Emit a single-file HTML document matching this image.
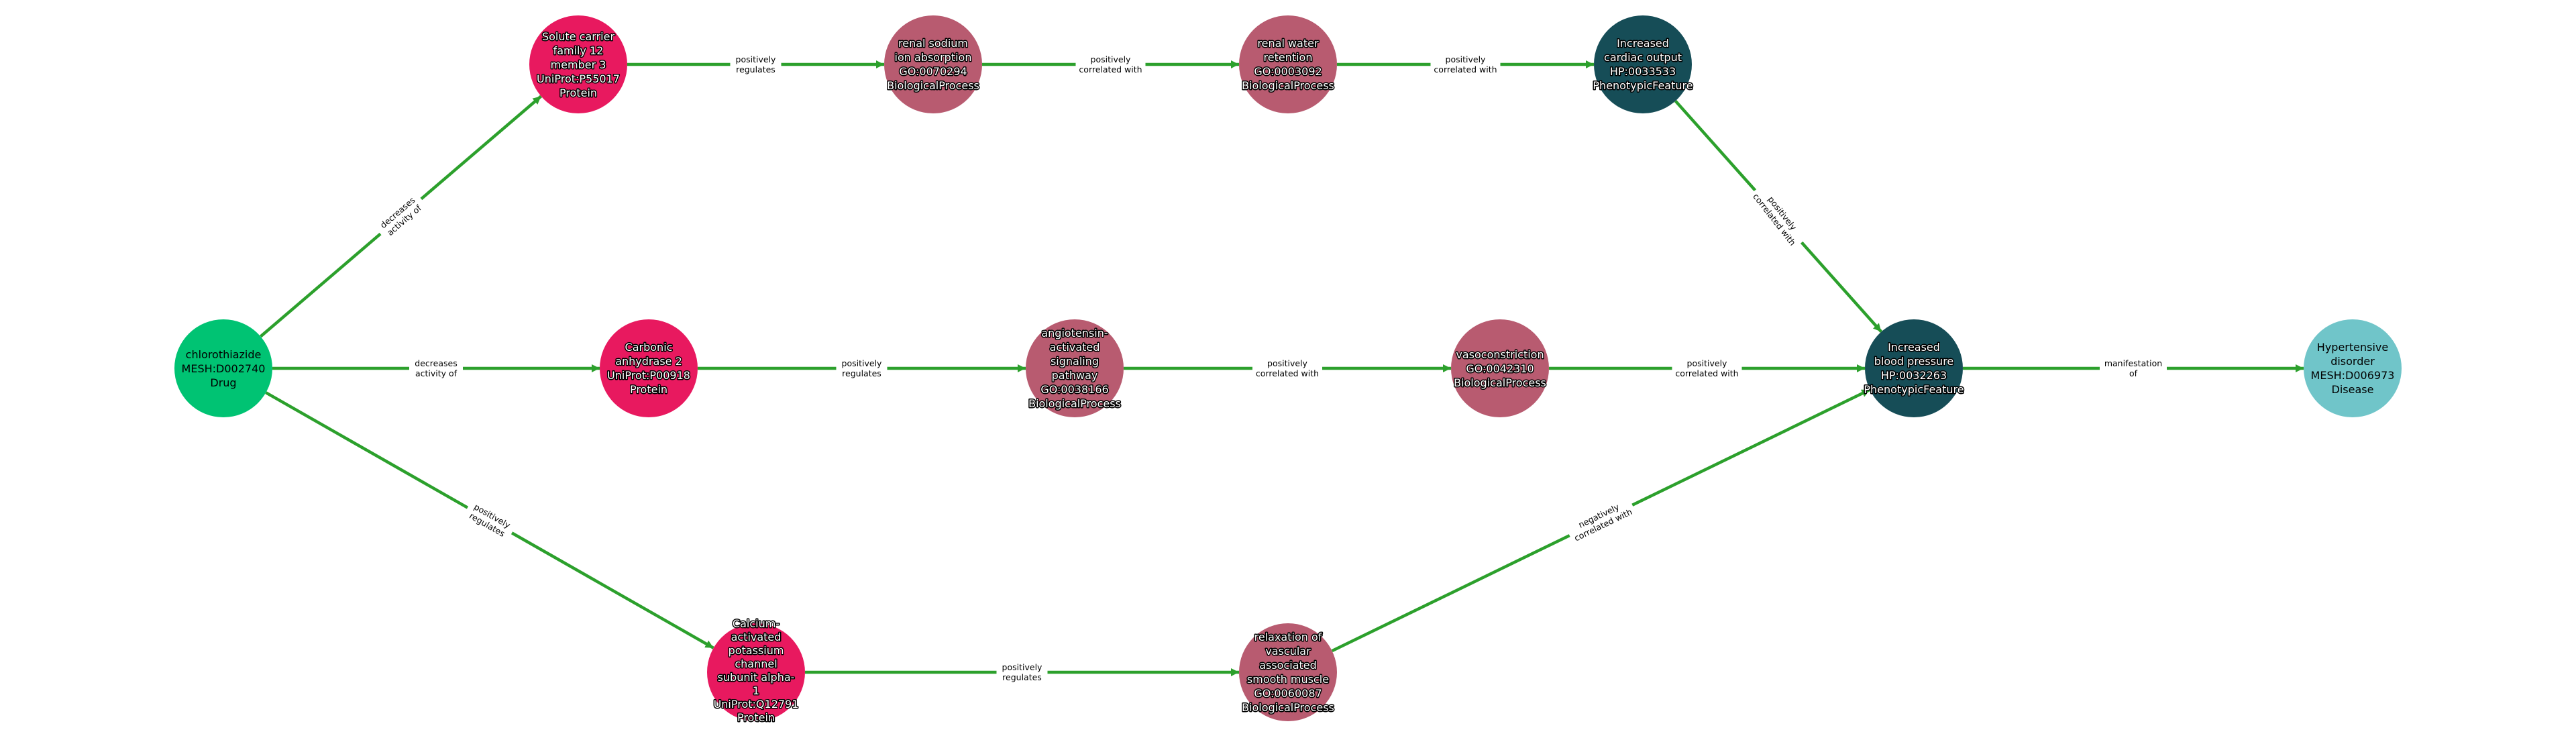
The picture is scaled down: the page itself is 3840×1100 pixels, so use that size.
<!DOCTYPE html>
<html><head><meta charset="utf-8"><style>
html,body{margin:0;padding:0;background:#fff}
svg{display:block}
.n{font-family:"DejaVu Sans",sans-serif;font-size:16px;text-anchor:middle;fill:#fff;stroke:#000;stroke-width:3px;paint-order:stroke;stroke-linejoin:round}
.nb{font-family:"DejaVu Sans",sans-serif;font-size:16px;text-anchor:middle;fill:#000}
.l{font-family:"DejaVu Sans",sans-serif;font-size:12.5px;text-anchor:middle;fill:#000}
.e{stroke:#2ca02c;stroke-width:4.5;fill:none;marker-end:url(#a)}
</style></head><body>
<svg width="3840" height="1100" viewBox="0 0 3840 1100" xmlns="http://www.w3.org/2000/svg">
<defs><marker id="a" markerUnits="userSpaceOnUse" markerWidth="14" markerHeight="12" refX="12" refY="6" orient="auto"><path d="M0,0 L12,6 L0,12 z" fill="#2ca02c"/></marker></defs>
<rect width="3840" height="1100" fill="#fff"/>
<!-- edges -->
<line class="e" x1="388.5" y1="501.5" x2="806.5" y2="143.5"/>
<line class="e" x1="406" y1="549" x2="894" y2="549"/>
<line class="e" x1="396.4" y1="585.2" x2="1063.6" y2="965.8"/>
<line class="e" x1="935" y1="96" x2="1318" y2="96"/>
<line class="e" x1="1464" y1="96" x2="1847" y2="96"/>
<line class="e" x1="1993" y1="96" x2="2376" y2="96"/>
<line class="e" x1="2497.6" y1="150.5" x2="2804.4" y2="494.5"/>
<line class="e" x1="1040" y1="549" x2="1529" y2="549"/>
<line class="e" x1="1675" y1="549" x2="2163" y2="549"/>
<line class="e" x1="2309" y1="549" x2="2780" y2="549"/>
<line class="e" x1="2926" y1="549" x2="3434" y2="549"/>
<line class="e" x1="1200" y1="1002" x2="1847" y2="1002"/>
<line class="e" x1="1985.7" y1="970.1" x2="2787.3" y2="580.9"/>
<!-- edge labels -->
<g transform="translate(597.5,322.5) rotate(-40.6)"><rect x="-40" y="-18" width="80" height="36" fill="#fff"/><text class="l" y="-3">decreases</text><text class="l" y="12">activity of</text></g>
<g transform="translate(650,549)"><rect x="-40" y="-18" width="80" height="36" fill="#fff"/><text class="l" y="-3">decreases</text><text class="l" y="12">activity of</text></g>
<g transform="translate(730,775.5) rotate(29.7)"><rect x="-38" y="-18" width="76" height="36" fill="#fff"/><text class="l" y="-3">positively</text><text class="l" y="12">regulates</text></g>
<g transform="translate(1126.5,96)"><rect x="-38" y="-18" width="76" height="36" fill="#fff"/><text class="l" y="-3">positively</text><text class="l" y="12">regulates</text></g>
<g transform="translate(1655.5,96)"><rect x="-52" y="-18" width="104" height="36" fill="#fff"/><text class="l" y="-3">positively</text><text class="l" y="12">correlated with</text></g>
<g transform="translate(2184.5,96)"><rect x="-52" y="-18" width="104" height="36" fill="#fff"/><text class="l" y="-3">positively</text><text class="l" y="12">correlated with</text></g>
<g transform="translate(2651,322.5) rotate(52)"><rect x="-52" y="-18" width="104" height="36" fill="#fff"/><text class="l" y="-3">positively</text><text class="l" y="12">correlated with</text></g>
<g transform="translate(1284.5,549)"><rect x="-38" y="-18" width="76" height="36" fill="#fff"/><text class="l" y="-3">positively</text><text class="l" y="12">regulates</text></g>
<g transform="translate(1919,549)"><rect x="-52" y="-18" width="104" height="36" fill="#fff"/><text class="l" y="-3">positively</text><text class="l" y="12">correlated with</text></g>
<g transform="translate(2544.5,549)"><rect x="-52" y="-18" width="104" height="36" fill="#fff"/><text class="l" y="-3">positively</text><text class="l" y="12">correlated with</text></g>
<g transform="translate(3180,549)"><rect x="-50" y="-18" width="100" height="36" fill="#fff"/><text class="l" y="-3">manifestation</text><text class="l" y="12">of</text></g>
<g transform="translate(1523.5,1002)"><rect x="-38" y="-18" width="76" height="36" fill="#fff"/><text class="l" y="-3">positively</text><text class="l" y="12">regulates</text></g>
<g transform="translate(2386.5,775.5) rotate(-25.9)"><rect x="-52" y="-18" width="104" height="36" fill="#fff"/><text class="l" y="-3">negatively</text><text class="l" y="12">correlated with</text></g>
<!-- nodes -->
<circle cx="333" cy="549" r="73" fill="#00c373"/>
<text class="nb" x="333" y="534">chlorothiazide</text><text class="nb" x="333" y="555">MESH:D002740</text><text class="nb" x="333" y="576">Drug</text>

<circle cx="862" cy="96" r="73" fill="#e8195f"/>
<text class="n" x="862" y="60">Solute carrier</text><text class="n" x="862" y="81">family 12</text><text class="n" x="862" y="102">member 3</text><text class="n" x="862" y="123">UniProt:P55017</text><text class="n" x="862" y="144">Protein</text>

<circle cx="1391" cy="96" r="73" fill="#b85b70"/>
<text class="n" x="1391" y="70">renal sodium</text><text class="n" x="1391" y="91">ion absorption</text><text class="n" x="1391" y="112">GO:0070294</text><text class="n" x="1391" y="133">BiologicalProcess</text>

<circle cx="1920" cy="96" r="73" fill="#b85b70"/>
<text class="n" x="1920" y="70">renal water</text><text class="n" x="1920" y="91">retention</text><text class="n" x="1920" y="112">GO:0003092</text><text class="n" x="1920" y="133">BiologicalProcess</text>

<circle cx="2449" cy="96" r="73" fill="#164d57"/>
<text class="n" x="2449" y="70">Increased</text><text class="n" x="2449" y="91">cardiac output</text><text class="n" x="2449" y="112">HP:0033533</text><text class="n" x="2449" y="133">PhenotypicFeature</text>

<circle cx="967" cy="549" r="73" fill="#e8195f"/>
<text class="n" x="967" y="523">Carbonic</text><text class="n" x="967" y="544">anhydrase 2</text><text class="n" x="967" y="565">UniProt:P00918</text><text class="n" x="967" y="586">Protein</text>

<circle cx="1602" cy="549" r="73" fill="#b85b70"/>
<text class="n" x="1602" y="502">angiotensin-</text><text class="n" x="1602" y="523">activated</text><text class="n" x="1602" y="544">signaling</text><text class="n" x="1602" y="565">pathway</text><text class="n" x="1602" y="586">GO:0038166</text><text class="n" x="1602" y="607">BiologicalProcess</text>

<circle cx="2236" cy="549" r="73" fill="#b85b70"/>
<text class="n" x="2236" y="534">vasoconstriction</text><text class="n" x="2236" y="555">GO:0042310</text><text class="n" x="2236" y="576">BiologicalProcess</text>

<circle cx="2853" cy="549" r="73" fill="#164d57"/>
<text class="n" x="2853" y="523">Increased</text><text class="n" x="2853" y="544">blood pressure</text><text class="n" x="2853" y="565">HP:0032263</text><text class="n" x="2853" y="586">PhenotypicFeature</text>

<circle cx="3507" cy="549" r="73" fill="#70c5c9"/>
<text class="nb" x="3507" y="523">Hypertensive</text><text class="nb" x="3507" y="544">disorder</text><text class="nb" x="3507" y="565">MESH:D006973</text><text class="nb" x="3507" y="586">Disease</text>

<circle cx="1127" cy="1002" r="73" fill="#e8195f"/>
<text class="n" x="1127" y="935">Calcium-</text><text class="n" x="1127" y="955">activated</text><text class="n" x="1127" y="975">potassium</text><text class="n" x="1127" y="995">channel</text><text class="n" x="1127" y="1015">subunit alpha-</text><text class="n" x="1127" y="1035">1</text><text class="n" x="1127" y="1055">UniProt:Q12791</text><text class="n" x="1127" y="1075">Protein</text>

<circle cx="1920" cy="1002" r="73" fill="#b85b70"/>
<text class="n" x="1920" y="955">relaxation of</text><text class="n" x="1920" y="976">vascular</text><text class="n" x="1920" y="997">associated</text><text class="n" x="1920" y="1018">smooth muscle</text><text class="n" x="1920" y="1039">GO:0060087</text><text class="n" x="1920" y="1060">BiologicalProcess</text>
</svg>
</body></html>
